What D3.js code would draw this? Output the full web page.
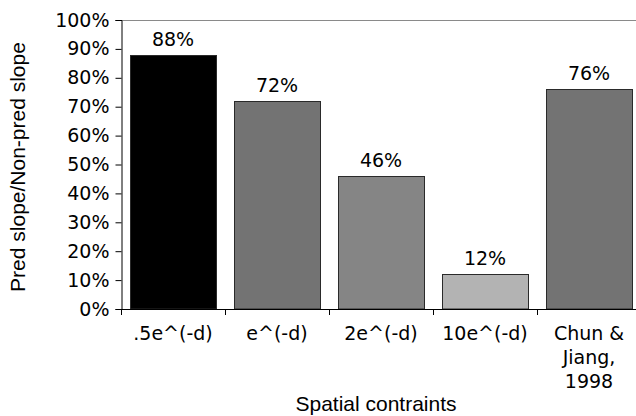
<!DOCTYPE html>
<html><head><meta charset="utf-8">
<script src="https://cdn.jsdelivr.net/npm/d3@7"></script>
<style>body{margin:0;background:#fff}svg{display:block}</style>
</head><body><svg id="c" width="636" height="416"></svg>
<script>
const categories = [".5e^(-d)", "e^(-d)", "2e^(-d)", "10e^(-d)", "Chun & Jiang, 1998"];
const categoryLines = [[".5e^(-d)"], ["e^(-d)"], ["2e^(-d)"], ["10e^(-d)"], ["Chun &", "Jiang,", "1998"]];
const values = [0.88, 0.72, 0.46, 0.12, 0.76];
const valueLabels = ["88%", "72%", "46%", "12%", "76%"];
const barColors = ["#000000", "#737373", "#858585", "#b3b3b3", "#737373"];
const yTicks = [0, 0.1, 0.2, 0.3, 0.4, 0.5, 0.6, 0.7, 0.8, 0.9, 1.0];

const svg = d3.select("#c");
const mLeft = 121, mTop = 20, mBottom = 309;
const x = d3.scaleBand().domain(categories).range([mLeft, mLeft + 5 * 104]).paddingInner(0.17).paddingOuter(0.085);
const y = d3.scaleLinear().domain([0, 1]).range([mBottom, mTop]);
const verdana = "Verdana, 'DejaVu Sans', sans-serif";
const arial = "Arial, 'Liberation Sans', sans-serif";
const fs = "19px";

// top border
svg.append("line").attr("x1", mLeft).attr("x2", 636).attr("y1", mTop + 0.5).attr("y2", mTop + 0.5)
  .attr("stroke", "#8a8a8a").attr("stroke-width", 1);

// bars
svg.selectAll("rect.bar").data(values).join("rect").attr("class", "bar")
  .attr("x", (d, i) => Math.round(x(categories[i])) + 0.5)
  .attr("y", d => Math.round(y(d)) + 0.5)
  .attr("width", Math.round(x.bandwidth()))
  .attr("height", d => y(0) - Math.round(y(d)) - 0.5)
  .attr("fill", (d, i) => barColors[i])
  .attr("stroke", "#2a2a2a").attr("stroke-width", 1);

// value labels
svg.selectAll("text.val").data(values).join("text").attr("class", "val")
  .attr("x", (d, i) => x(categories[i]) + x.bandwidth() / 2)
  .attr("y", d => y(d) - 9)
  .attr("text-anchor", "middle")
  .style("font-family", verdana).style("font-size", fs).attr("fill", "#000")
  .text((d, i) => valueLabels[i]);

// y axis
const yAxis = d3.axisLeft(y).tickValues(yTicks).tickFormat(d3.format(".0%")).tickSize(6).tickPadding(6);
const gy = svg.append("g").attr("transform", `translate(${mLeft + 0.5},0)`).call(yAxis);
gy.select(".domain").attr("stroke", "#000");
gy.selectAll(".tick line").attr("stroke", "#000");
gy.selectAll(".tick text").style("font-family", verdana).style("font-size", fs).attr("fill", "#000");

// x axis
const boundaries = d3.range(0, 6).map(i => mLeft + i * 104);
const gx = svg.append("g");
gx.append("line").attr("x1", mLeft).attr("x2", 636).attr("y1", mBottom + 0.5).attr("y2", mBottom + 0.5).attr("stroke", "#000");
gx.selectAll("line.t").data(boundaries).join("line").attr("class", "t")
  .attr("x1", d => d + 0.5).attr("x2", d => d + 0.5).attr("y1", mBottom).attr("y2", mBottom + 6).attr("stroke", "#000");

const labels = svg.selectAll("text.cat").data(categoryLines).join("text").attr("class", "cat")
  .attr("text-anchor", "middle")
  .style("font-family", verdana).style("font-size", fs).attr("fill", "#000");
labels.each(function(lines, i) {
  const t = d3.select(this);
  lines.forEach((ln, j) => {
    t.append("tspan").attr("x", x(categories[i]) + x.bandwidth() / 2).attr("y", 340 + j * 24).text(ln);
  });
});

// axis titles
svg.append("text").attr("transform", "translate(25,167) rotate(-90)").attr("text-anchor", "middle")
  .style("font-family", arial).style("font-size", "21px").attr("fill", "#000")
  .text("Pred slope/Non-pred slope");
svg.append("text").attr("x", 376).attr("y", 411).attr("text-anchor", "middle")
  .style("font-family", arial).style("font-size", "21px").attr("fill", "#000")
  .text("Spatial contraints");
</script></body></html>
